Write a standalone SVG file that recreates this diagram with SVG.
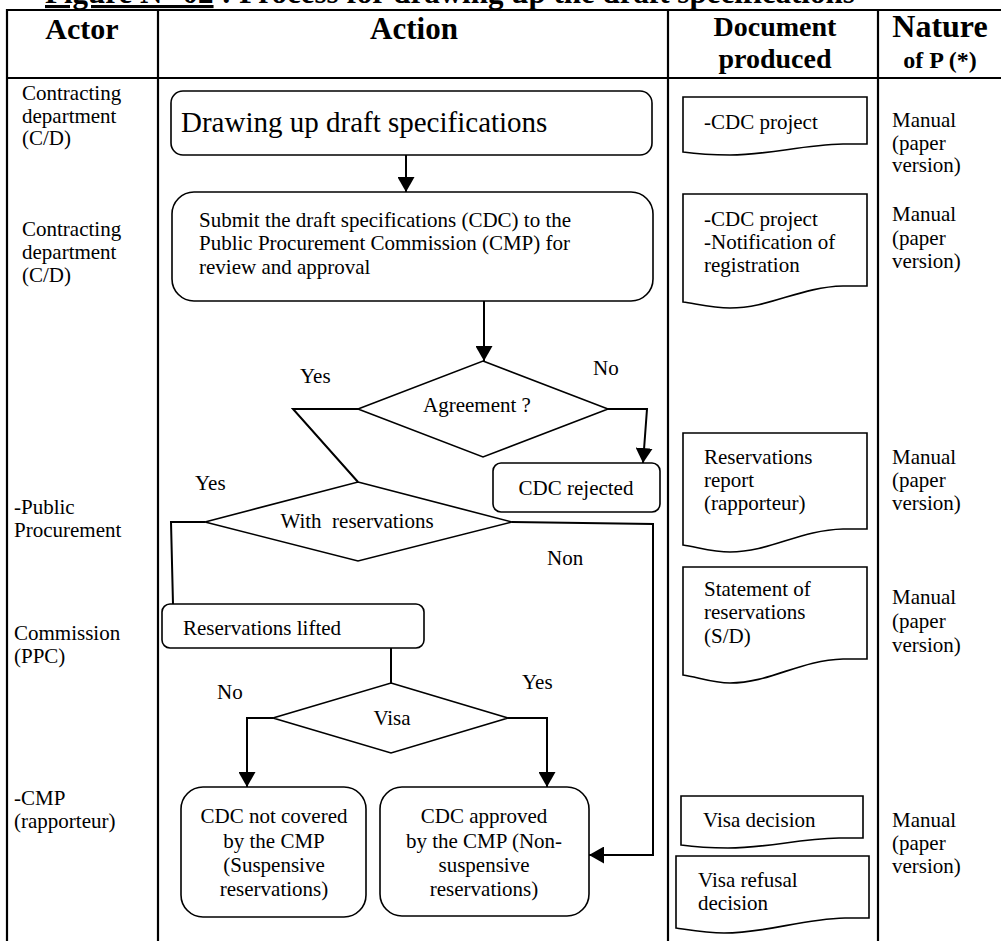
<svg xmlns="http://www.w3.org/2000/svg" width="1001" height="941" viewBox="0 0 1001 941">
<style>
  text { font-family: "Liberation Serif", "Times New Roman", serif; fill: #000; }
  .hd { font-weight: bold; }
  .t { font-size: 21px; }
  .mid { text-anchor: middle; }
  .grid { stroke: #000; stroke-width: 2.2; fill: none; }
  .shape { stroke: #000; stroke-width: 1.6; fill: #fff; }
  .conn { stroke: #000; stroke-width: 2; fill: none; }
</style>
<defs>
  <marker id="arrow" viewBox="0 0 15 17" refX="15" refY="8.5" markerWidth="15" markerHeight="17" markerUnits="userSpaceOnUse" orient="auto">
    <path d="M0,0 L15,8.5 L0,17 Z" fill="#000"/>
  </marker>
</defs>
<rect x="0" y="0" width="1001" height="941" fill="#fff"/>

<g id="title">
  <text x="45" y="3" class="hd" font-size="31"><tspan text-decoration="underline">Figure N° 02</tspan> : Process for drawing up the draft specifications</text>
</g>

<g id="table">
  <line class="grid" x1="7" y1="10" x2="1001" y2="10"/>
  <line class="grid" x1="7" y1="78" x2="1001" y2="78"/>
  <line class="grid" x1="7" y1="9" x2="7" y2="941"/>
  <line class="grid" x1="158" y1="9" x2="158" y2="941"/>
  <line class="grid" x1="668" y1="9" x2="668" y2="941"/>
  <line class="grid" x1="878" y1="9" x2="878" y2="941"/>
  <text x="82" y="39" class="hd mid" font-size="30">Actor</text>
  <text x="414" y="39" class="hd mid" font-size="31">Action</text>
  <text x="775" y="36" class="hd mid" font-size="28">Document</text>
  <text x="775" y="68" class="hd mid" font-size="28">produced</text>
  <text x="940" y="37" class="hd mid" font-size="32">Nature</text>
  <text x="940" y="68" class="hd mid" font-size="24">of P (*)</text>
</g>

<g id="actors">
  <text x="22" y="100" class="t">Contracting</text>
  <text x="22" y="123" class="t">department</text>
  <text x="22" y="145" class="t">(C/D)</text>
  <text x="22" y="236" class="t">Contracting</text>
  <text x="22" y="259" class="t">department</text>
  <text x="22" y="282" class="t">(C/D)</text>
  <text x="14" y="514" class="t">-Public</text>
  <text x="14" y="537" class="t">Procurement</text>
  <text x="14" y="640" class="t">Commission</text>
  <text x="14" y="663" class="t">(PPC)</text>
  <text x="14" y="805" class="t">-CMP</text>
  <text x="14" y="828" class="t">(rapporteur)</text>
</g>

<g id="connectors">
  <line class="conn" x1="406" y1="155" x2="406" y2="192" marker-end="url(#arrow)"/>
  <line class="conn" x1="484" y1="301" x2="484" y2="361" marker-end="url(#arrow)"/>
  <polyline class="conn" points="358,409 293,409 358,482"/>
  <polyline class="conn" points="608,409 647,409 643,463" marker-end="url(#arrow)"/>
  <polyline class="conn" points="205,522 171,522 173,604"/>
  <polyline class="conn" points="512,522 653,524 653,855 589,855" marker-end="url(#arrow)"/>
  <line class="conn" x1="391" y1="648" x2="391" y2="683"/>
  <polyline class="conn" points="273,718 247,718 247,787" marker-end="url(#arrow)"/>
  <polyline class="conn" points="508,718 547,718 547,787" marker-end="url(#arrow)"/>
  <text x="300" y="383" class="t">Yes</text>
  <text x="593" y="375" class="t">No</text>
  <text x="195" y="490" class="t">Yes</text>
  <text x="547" y="565" class="t">Non</text>
  <text x="217" y="699" class="t">No</text>
  <text x="522" y="689" class="t">Yes</text>
</g>

<g id="n-draft">
  <rect class="shape" x="171" y="91" width="481" height="64" rx="12"/>
  <text x="181" y="132" font-size="29">Drawing up draft specifications</text>
</g>

<g id="n-submit">
  <rect class="shape" x="172" y="192" width="481" height="109" rx="22"/>
  <text x="199" y="227" class="t">Submit the draft specifications (CDC) to the</text>
  <text x="199" y="250" class="t">Public Procurement Commission (CMP) for</text>
  <text x="199" y="274" class="t">review and approval</text>
</g>

<g id="n-agreement">
  <polygon class="shape" points="483,361 608,409 483,457 358,409"/>
  <text x="477" y="412" class="t mid">Agreement ?</text>
</g>

<g id="n-rejected">
  <rect class="shape" x="493" y="463" width="167" height="49" rx="8"/>
  <text x="576" y="495" class="t mid">CDC rejected</text>
</g>

<g id="n-with-reservations">
  <polygon class="shape" points="358,482 512,522 358,561 205,522"/>
  <text x="357" y="528" class="t mid" xml:space="preserve">With  reservations</text>
</g>

<g id="n-lifted">
  <rect class="shape" x="162" y="604" width="262" height="44" rx="8"/>
  <text x="183" y="635" class="t">Reservations lifted</text>
</g>

<g id="n-visa">
  <polygon class="shape" points="391,683 508,718 391,753 273,718"/>
  <text x="392" y="725" class="t mid">Visa</text>
</g>

<g id="n-not-covered">
  <rect class="shape" x="181" y="787" width="185" height="130" rx="22"/>
  <text x="274" y="823" class="t mid">CDC not covered</text>
  <text x="274" y="848" class="t mid">by the CMP</text>
  <text x="274" y="872" class="t mid">(Suspensive</text>
  <text x="274" y="896" class="t mid">reservations)</text>
</g>

<g id="n-approved">
  <rect class="shape" x="380" y="787" width="209" height="129" rx="22"/>
  <text x="484" y="823" class="t mid">CDC approved</text>
  <text x="484" y="848" class="t mid">by the CMP (Non-</text>
  <text x="484" y="872" class="t mid">suspensive</text>
  <text x="484" y="896" class="t mid">reservations)</text>
</g>

<g id="doc-1">
  <path class="shape" d="M683,97 H867 V144 H843 C800,145 770,155 730,155 C713,155 697,154 683,152 Z"/>
  <text x="704" y="129" class="t">-CDC project</text>
</g>
<g id="doc-2">
  <path class="shape" d="M683,194 H867 V286 H843 C800,287 770,308 730,308 C713,308 697,304 683,302 Z"/>
  <text x="704" y="226" class="t">-CDC project</text>
  <text x="704" y="249" class="t">-Notification of</text>
  <text x="704" y="272" class="t">registration</text>
</g>
<g id="doc-3">
  <path class="shape" d="M683,433 H867 V529 H843 C800,530 770,552 730,552 C713,552 697,547 683,545 Z"/>
  <text x="704" y="464" class="t">Reservations</text>
  <text x="704" y="487" class="t">report</text>
  <text x="704" y="510" class="t">(rapporteur)</text>
</g>
<g id="doc-4">
  <path class="shape" d="M683,567 H867 V659 H843 C800,660 770,683 730,683 C713,683 697,677 683,675 Z"/>
  <text x="704" y="596" class="t">Statement of</text>
  <text x="704" y="619" class="t">reservations</text>
  <text x="704" y="643" class="t">(S/D)</text>
</g>
<g id="doc-5">
  <path class="shape" d="M681,796 H863 V838 H839 C796,839 768,848 728,848 C711,848 695,847 681,845 Z"/>
  <text x="703" y="827" class="t">Visa decision</text>
</g>
<g id="doc-6">
  <path class="shape" d="M676,856 H869 V918 H845 C800,919 768,933 724,933 C707,933 690,930 676,928 Z"/>
  <text x="698" y="887" class="t">Visa refusal</text>
  <text x="698" y="910" class="t">decision</text>
</g>

<g id="nature">
  <text x="892" y="127" class="t">Manual</text>
  <text x="892" y="150" class="t">(paper</text>
  <text x="892" y="172" class="t">version)</text>
  <text x="892" y="221" class="t">Manual</text>
  <text x="892" y="245" class="t">(paper</text>
  <text x="892" y="268" class="t">version)</text>
  <text x="892" y="464" class="t">Manual</text>
  <text x="892" y="487" class="t">(paper</text>
  <text x="892" y="510" class="t">version)</text>
  <text x="892" y="604" class="t">Manual</text>
  <text x="892" y="628" class="t">(paper</text>
  <text x="892" y="652" class="t">version)</text>
  <text x="892" y="827" class="t">Manual</text>
  <text x="892" y="850" class="t">(paper</text>
  <text x="892" y="873" class="t">version)</text>
</g>
</svg>
